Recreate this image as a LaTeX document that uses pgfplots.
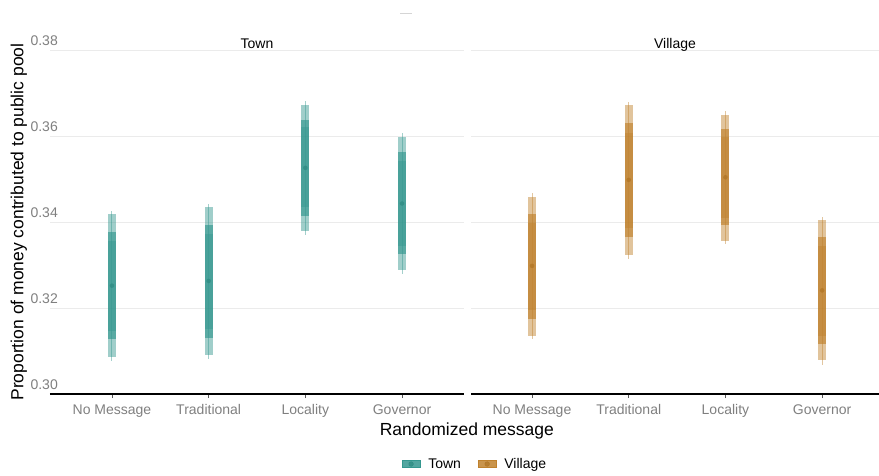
\documentclass[border=0pt]{standalone}
\usepackage{pgfplots}
\pgfplotsset{compat=1.18}
\usepackage{pgfplotstable}
\usepackage{fontspec}
\setmainfont{Liberation Sans}
\definecolor{teal1}{HTML}{35978F}
\definecolor{brown1}{HTML}{BF812D}
\definecolor{tealdot}{HTML}{2E8A82}
\definecolor{browndot}{HTML}{B07424}
\definecolor{tickgray}{HTML}{7F7F7F}
\definecolor{gridgray}{HTML}{EBEBEB}

% x mid thin_lo thin_hi out_lo out_hi med_lo med_hi dark_lo dark_hi
\pgfplotstableread{
x mid tlo thi olo ohi mlo mhi dlo dhi
1 0.3252 0.3077 0.3426 0.3087 0.3418 0.3127 0.3377 0.3147 0.3357
2 0.3263 0.3081 0.3443 0.3091 0.3434 0.3131 0.3393 0.3152 0.3372
3 0.3526 0.3370 0.3682 0.3379 0.3673 0.3415 0.3637 0.3434 0.3620
4 0.3443 0.3279 0.3608 0.3288 0.3598 0.3325 0.3562 0.3345 0.3543
}\towntab
\pgfplotstableread{
x mid tlo thi olo ohi mlo mhi dlo dhi
1 0.3298 0.3127 0.3467 0.3136 0.3458 0.3174 0.3419 0.3196 0.3398
2 0.3498 0.3314 0.3680 0.3323 0.3671 0.3365 0.3630 0.3387 0.3608
3 0.3504 0.3349 0.3659 0.3357 0.3650 0.3392 0.3616 0.3410 0.3598
4 0.3241 0.3068 0.3412 0.3078 0.3405 0.3116 0.3366 0.3136 0.3345
}\villtab

% #1 table, #2 lo col, #3 hi col, #4 colour, #5 opacity, #6 width
\newcommand\band[6]{%
  \addplot[color=#4, draw=none, mark=none, forget plot,
    error bars/.cd, y dir=both, y explicit, error mark=none,
    error bar style={draw=#4, draw opacity=#5, line width=#6, line cap=butt}]
    table[x=x, y=mid,
      y error plus expr=\thisrow{#3}-\thisrow{mid},
      y error minus expr=\thisrow{mid}-\thisrow{#2}] {#1};
}
\newcommand\intervals[3]{%
  \band{#1}{tlo}{thi}{#2}{0.45}{1pt}
  \band{#1}{olo}{ohi}{#2}{0.47}{8pt}
  \band{#1}{mlo}{mhi}{#2}{0.66}{8pt}
  \band{#1}{dlo}{dhi}{#2}{0.45}{8pt}
  \addplot[color=#3, only marks, mark=*, mark size=2.3pt, forget plot,
    mark options={draw opacity=0, fill opacity=0.7}]
    table[x=x, y=mid] {#1};
}

\pgfplotsset{
  panel/.style={
    scale only axis,
    height=344pt,
    ymin=0.30, ymax=0.38,
    ytick={0.30,0.32,0.34,0.36,0.38},
    ymajorgrids,
    grid style={draw=gridgray, line width=0.9pt},
    axis x line*=bottom,
    axis y line*=left,
    x axis line style={draw=black, line width=1.4pt, -},
    y axis line style={draw=none},
    xtick={1,2,3,4},
    xticklabels={No Message, Traditional, Locality, Governor},
    xtick align=outside,
    major tick length=4pt,
    xtick style={draw=tickgray!70!black, line width=0.6pt},
    ytick style={draw=none},
    tick label style={font=\fontsize{14}{16}\selectfont, text=tickgray},
    xticklabel style={yshift=-3pt},
    every axis title/.style={font=\fontsize{14}{16}\selectfont, at={(0.5,1)}, anchor=base, inner sep=0pt, yshift=2pt},
    clip=false,
  }
}

\begin{document}
\begin{tikzpicture}
\useasboundingbox (0,0) rectangle (879pt,-475pt);
\draw[gridgray!80!gray, line width=0.8pt] (400pt,-13.3pt) -- (412pt,-13.3pt);

\begin{axis}[panel,
  at={(50pt,-394pt)}, anchor=south west,
  width=414pt,
  xmin=0.359, xmax=4.641,
  title={Town},
  yticklabel style={/pgf/number format/.cd, fixed, fixed zerofill, precision=2, assume math mode=true, /tikz/.cd,
     anchor=south east, inner sep=0pt, xshift=8pt, yshift=4pt},
  scaled y ticks=false,
  xlabel={Randomized message},
  ylabel={Proportion of money contributed to public pool},
  label style={font=\fontsize{17.5}{20}\selectfont},
  xlabel style={at={(rel axis cs:1.007,-0.108)}, anchor=center},
  ylabel style={at={(rel axis cs:-0.075,0.5)}, anchor=center, rotate=0},
  legend style={at={(1.0266,-0.2035)}, anchor=center, draw=none, fill=none,
     legend columns=2, font=\fontsize{14}{16}\selectfont,
     /tikz/every even column/.append style={column sep=15pt}},
  legend cell align=left,
]
\intervals{\towntab}{teal1}{tealdot}
\addlegendimage{legend image code/.code={
   \fill[teal1, fill opacity=0.85] (0pt,-3.5pt) rectangle (18pt,3.5pt);
   \fill[tealdot, fill opacity=0.7] (9pt,0pt) circle (2.3pt);}}
\addlegendentry{\hspace{6pt}Town}
\addlegendimage{legend image code/.code={
   \fill[brown1, fill opacity=0.85] (0pt,-3.5pt) rectangle (18pt,3.5pt);
   \fill[browndot, fill opacity=0.7] (9pt,0pt) circle (2.3pt);}}
\addlegendentry{\hspace{6pt}Village}
\end{axis}

\begin{axis}[panel,
  at={(471pt,-394pt)}, anchor=south west,
  width=408pt,
  xmin=0.369, xmax=4.588,
  title={Village},
  yticklabels={},
]
\intervals{\villtab}{brown1}{browndot}
\end{axis}
\end{tikzpicture}
\end{document}
